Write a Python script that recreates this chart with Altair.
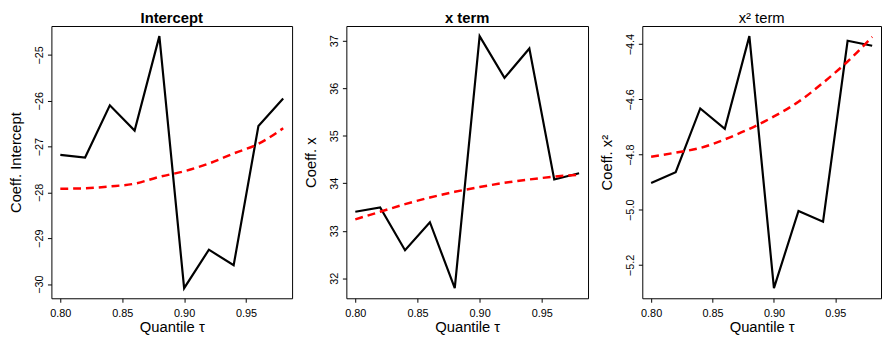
import altair as alt
import pandas as pd

tau = [0.80, 0.82, 0.84, 0.86, 0.88, 0.90, 0.92, 0.94, 0.96, 0.98]

intercept_est = [-27.18, -27.24, -26.10, -26.65, -24.59, -30.09, -29.25, -29.59, -26.55, -25.95]
intercept_fit = [-27.92, -27.91, -27.87, -27.81, -27.66, -27.54, -27.37, -27.15, -26.94, -26.60]

x_est = [33.40, 33.49, 32.59, 33.18, 31.79, 37.10, 36.22, 36.84, 34.08, 34.21]
x_fit = [33.24, 33.40, 33.56, 33.70, 33.82, 33.92, 34.01, 34.08, 34.14, 34.18]

x2_est = [-4.903, -4.864, -4.633, -4.707, -4.371, -5.284, -5.004, -5.043, -4.388, -4.406]
x2_fit = [-4.808, -4.793, -4.776, -4.745, -4.707, -4.662, -4.609, -4.540, -4.463, -4.374]

x_ticks = [0.80, 0.85, 0.90, 0.95]
intercept_ticks = [-25, -26, -27, -28, -29, -30]
x_term_ticks = [32, 33, 34, 35, 36, 37]
x2_ticks = [-4.4, -4.6, -4.8, -5.0, -5.2]

FONT = "Liberation Sans"


def expand(vals):
    lo, hi = min(vals), max(vals)
    pad = 0.04 * (hi - lo)
    return [lo - pad, hi + pad]


def panel(est, fit, title, title_weight, ytitle, yticks, yfmt, width):
    df = pd.DataFrame({
        "tau": tau + tau,
        "value": est + fit,
        "kind": ["est"] * len(tau) + ["fit"] * len(tau),
    })
    xdom = expand(tau)
    x = alt.X("tau:Q",
              scale=alt.Scale(domain=xdom, nice=False, zero=False),
              axis=alt.Axis(values=x_ticks, format=".2f", title="Quantile τ",
                            labelPadding=5, titlePadding=2))
    y = alt.Y("value:Q",
              scale=alt.Scale(domain=expand(est + fit), nice=False, zero=False),
              axis=alt.Axis(values=yticks, format=yfmt, title=ytitle,
                            labelAngle=-90, labelAlign="center", labelBaseline="bottom",
                            labelPadding=3, titlePadding=10))
    base = alt.Chart(df)
    est_line = base.transform_filter(alt.datum.kind == "est").mark_line(
        color="#000000", strokeWidth=2.2).encode(x=x, y=y)
    fit_line = base.transform_filter(alt.datum.kind == "fit").mark_line(
        color="#ff0000", strokeWidth=2.5, strokeDash=[8, 5], interpolate="monotone").encode(x=x, y=y)
    return alt.layer(est_line, fit_line).properties(
        width=width, height=276,
        title=alt.TitleParams(title, font=FONT, fontSize=15, fontWeight=title_weight,
                              color="#000000", offset=0),
    )


p1 = panel(intercept_est, intercept_fit, "Intercept", "bold", "Coeff. Intercept",
           intercept_ticks, ".0f", 244)
p2 = panel(x_est, x_fit, "x term", "bold", "Coeff. x", x_term_ticks, ".0f", 245)
p3 = panel(x2_est, x2_fit, "x² term", "normal", "Coeff. x²", x2_ticks, ".1f", 242)

chart = alt.hconcat(p1, p2, p3, spacing=55, bounds="flush").properties(
    padding={"left": 0, "top": 0, "right": 0, "bottom": 0},
    background="#ffffff",
).configure_view(
    stroke="#000000", strokeWidth=1
).configure_axis(
    domain=False, grid=False, tickColor="#000000", tickSize=4, tickWidth=1,
    labelFont=FONT, labelFontSize=11, labelColor="#000000",
    titleFont=FONT, titleFontSize=15, titleFontWeight="normal", titleColor="#000000",
).configure_title(anchor="middle")

chart.save("out.html", embed_options={"renderer": "svg", "actions": False})
